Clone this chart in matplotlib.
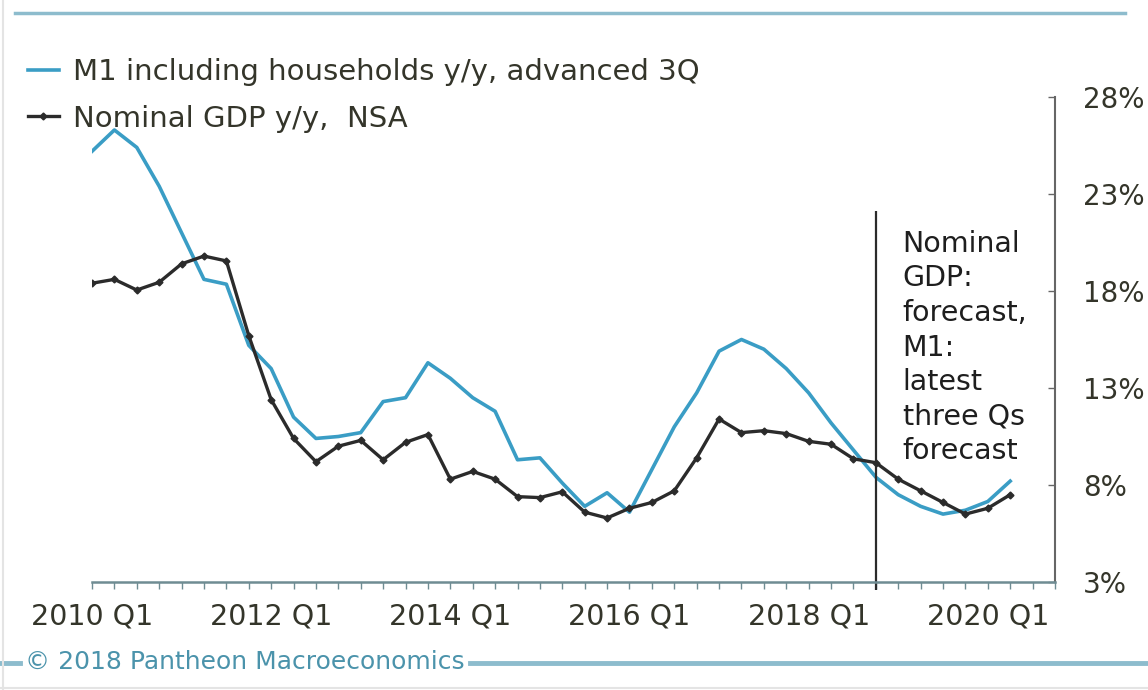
import matplotlib
matplotlib.use('Agg')
import matplotlib.pyplot as plt
from matplotlib.lines import Line2D

# quarters from 2010 Q1 (index 0) onwards
quarters = list(range(42))
m1_yoy = [25.2, 26.3, 25.4, 23.4, 21.0, 18.6, 18.35, 15.2, 14.0, 11.5,
          10.4, 10.5, 10.7, 12.3, 12.5, 14.3, 13.5, 12.5, 11.8, 9.3,
          9.4, 8.1, 6.9, 7.6, 6.6, 8.8, 11.0, 12.75, 14.9, 15.5,
          15.0, 14.0, 12.75, 11.2, 9.8, 8.4, 7.5, 6.9, 6.5, 6.7,
          7.15, 8.2]
gdp_yoy = [18.4, 18.6, 18.05, 18.45, 19.4, 19.8, 19.55, 15.7, 12.4, 10.4,
           9.2, 10.0, 10.3, 9.3, 10.2, 10.6, 8.3, 8.7, 8.3, 7.4,
           7.35, 7.65, 6.6, 6.3, 6.8, 7.1, 7.7, 9.4, 11.4, 10.7,
           10.8, 10.65, 10.25, 10.1, 9.35, 9.15, 8.3, 7.7, 7.1, 6.5,
           6.8, 7.5]
tick_pos = [0, 8, 16, 24, 32, 40]
tick_labels = ['2010 Q1', '2012 Q1', '2014 Q1', '2016 Q1', '2018 Q1', '2020 Q1']
y_ticks = [3, 8, 13, 18, 23, 28]
forecast_q = 35
forecast_top = 22.1

blue = '#3a9dc5'
dark = '#2b2b2b'
txt = '#34352a'
rule = '#8dbccd'

fig = plt.figure(figsize=(11.48, 6.9), dpi=100)
ax = fig.add_axes([92 / 1148, 1 - 582 / 690, 963 / 1148, 485 / 690])

ax.plot(quarters, m1_yoy, color=blue, lw=2.6,
        label='M1 including households y/y, advanced 3Q')
ax.plot(quarters, gdp_yoy, color=dark, lw=2.4, marker='D', ms=3.5,
        label='Nominal GDP y/y,  NSA')
ax.vlines(forecast_q, 2.6, forecast_top, color=dark, lw=1.6, clip_on=False)
ax.text(forecast_q + 1.2, 21.15,
        'Nominal\nGDP:\nforecast,\nM1:\nlatest\nthree Qs\nforecast',
        va='top', ha='left', fontsize=20.5, color='#1e1e1e', linespacing=1.3)

ax.set_xlim(0, 43)
ax.set_ylim(3, 28)
for s in ['left', 'top']:
    ax.spines[s].set_visible(False)
ax.spines['bottom'].set_color('#6f8c93')
ax.spines['bottom'].set_linewidth(1.8)
ax.spines['right'].set_color('#666666')
ax.spines['right'].set_linewidth(1.5)

ax.set_xticks(tick_pos)
ax.set_xticklabels(tick_labels)
ax.set_xticks(range(44), minor=True)
ax.tick_params(axis='x', which='both', direction='out', length=5, width=1,
               color='#6f8c93', labelsize=20.5, labelcolor=txt, pad=10)

ax.yaxis.tick_right()
ax.set_yticks(y_ticks)
ax.set_yticklabels([f'{v}%' for v in y_ticks])
ax.tick_params(axis='y', direction='in', length=5, width=1, color='#666666',
               labelsize=20, labelcolor=txt, pad=20)

ax.legend(loc='upper left', bbox_to_anchor=(28 / 1148, 1 - 58 / 690),
          bbox_transform=fig.transFigure, frameon=False, fontsize=21,
          handlelength=1.05, handletextpad=0.5, labelspacing=0.64,
          borderpad=0, borderaxespad=0, labelcolor=txt)

# frame decorations
fig.add_artist(Line2D([15 / 1148, 1125 / 1148], [1 - 13 / 690] * 2,
                      transform=fig.transFigure, color=rule, lw=2.5))
fig.add_artist(Line2D([0, 20 / 1148], [1 - 663 / 690] * 2,
                      transform=fig.transFigure, color=rule, lw=3.5))
fig.add_artist(Line2D([470 / 1148, 1], [1 - 663 / 690] * 2,
                      transform=fig.transFigure, color=rule, lw=3.5))
fig.add_artist(Line2D([3 / 1148] * 2, [0, 1],
                      transform=fig.transFigure, color='#e4e4e4', lw=1.5))
fig.add_artist(Line2D([0, 1], [2 / 690] * 2,
                      transform=fig.transFigure, color='#e4e4e4', lw=1.5))
fig.text(25 / 1148, 1 - 662 / 690, '© 2018 Pantheon Macroeconomics',
         va='center', ha='left', fontsize=18, color='#4b93ab')

fig.savefig('out.png', dpi=100)
